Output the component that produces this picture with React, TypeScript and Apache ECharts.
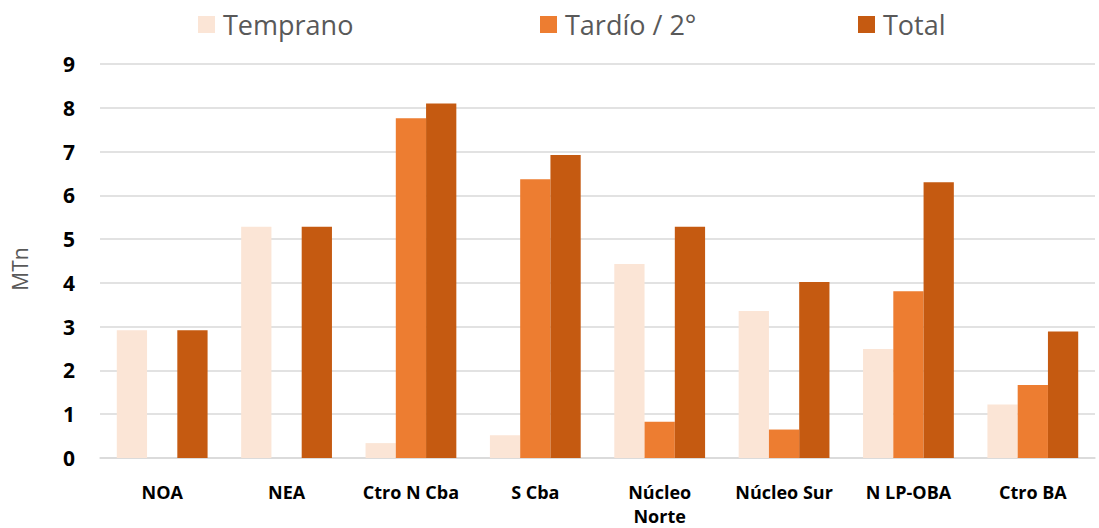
import React, { useEffect, useRef } from "react";
import * as echarts from "echarts";

const categories = ["NOA", "NEA", "Ctro N Cba", "S Cba", "Núcleo\nNorte", "Núcleo Sur", "N LP-OBA", "Ctro BA"];
const seriesNames = ["Temprano", "Tardío / 2°", "Total"];
const temprano = [2.92, 5.28, 0.34, 0.52, 4.43, 3.36, 2.49, 1.22];
const tardio = [0, 0, 7.76, 6.37, 0.83, 0.65, 3.81, 1.67];
const total = [2.92, 5.28, 8.1, 6.92, 5.28, 4.02, 6.3, 2.89];
const yTicks = [0, 1, 2, 3, 4, 5, 6, 7, 8, 9];
const yAxisTitle = "MTn";

export default function App() {
  const ref = useRef<HTMLDivElement>(null);
  useEffect(() => {
    document.body.style.margin = "0";
    const chart = echarts.init(ref.current!, null, { renderer: "svg" });
    const font = "'Open Sans', 'Liberation Sans', sans-serif";
    const legendLefts = [193, 535, 853];
    chart.setOption({
      animation: false,
      backgroundColor: "#ffffff",
      legend: seriesNames.map((n, i) => ({
        left: legendLefts[i],
        top: 6,
        itemWidth: 17,
        itemHeight: 17,
        icon: "rect",
        textStyle: { fontFamily: font, fontSize: 27, color: "#595959", padding: [0, 0, 0, 3] },
        data: [n],
      })),
      graphic: [
        {
          type: "text",
          x: 20,
          y: 269,
          rotation: Math.PI / 2,
          style: {
            text: yAxisTitle,
            fontFamily: font,
            fontSize: 21,
            fill: "#595959",
            align: "center",
            verticalAlign: "middle",
          },
        },
      ],
      grid: { left: 100, right: 4, top: 64, bottom: 70, outerBoundsMode: "none", containLabel: false },
      xAxis: {
        type: "category",
        data: categories,
        axisLine: { lineStyle: { color: "#d9d9d9", width: 1.5 } },
        axisTick: { show: false },
        axisLabel: {
          fontFamily: font,
          fontWeight: "bold",
          fontSize: 18,
          color: "#000000",
          margin: 22,
          lineHeight: 24,
          interval: 0,
        },
      },
      yAxis: {
        type: "value",
        min: yTicks[0],
        max: yTicks[yTicks.length - 1],
        interval: 1,
        axisLine: { show: false },
        axisTick: { show: false },
        splitLine: { lineStyle: { color: "#d9d9d9", width: 1.5 } },
        axisLabel: {
          fontFamily: font,
          fontWeight: "bold",
          fontSize: 21,
          color: "#000000",
          margin: 25,
        },
      },
      series: [
        { name: seriesNames[0], type: "bar", data: temprano, itemStyle: { color: "#FBE5D6" }, barGap: "0%", barCategoryGap: "27%" },
        { name: seriesNames[1], type: "bar", data: tardio, itemStyle: { color: "#ED7D31" }, barGap: "0%", barCategoryGap: "27%" },
        { name: seriesNames[2], type: "bar", data: total, itemStyle: { color: "#C55A11" }, barGap: "0%", barCategoryGap: "27%" },
      ],
    });
    return () => chart.dispose();
  }, []);
  return <div ref={ref} style={{ position: "fixed", left: 0, top: 0, width: 1099, height: 528 }} />;
}
